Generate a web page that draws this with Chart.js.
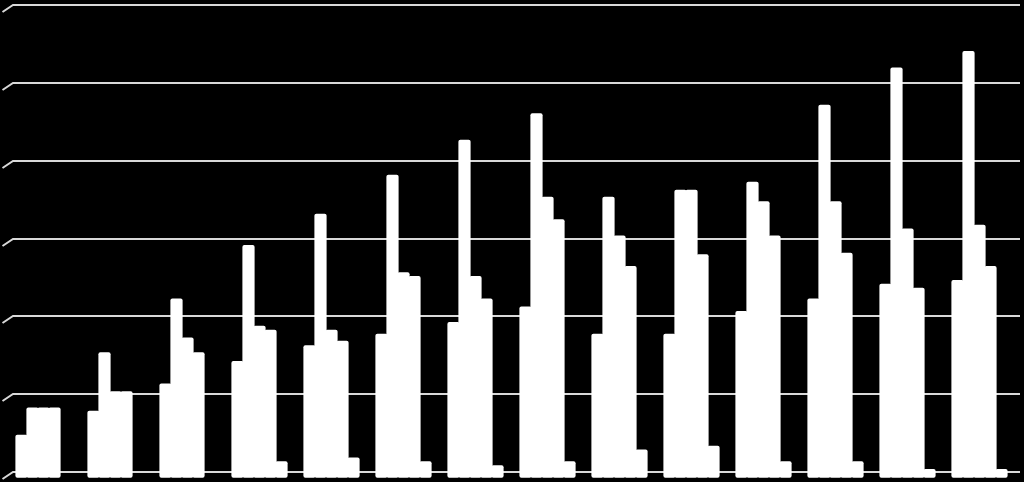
<!DOCTYPE html>
<html>
<head>
<meta charset="utf-8">
<script src="https://cdn.jsdelivr.net/npm/chart.js@4"></script>
<style>
html,body{margin:0;padding:0;background:#000;}
#wrap{width:1024px;height:482px;}
</style>
</head>
<body>
<div id="wrap"><canvas id="c" width="1024" height="482"></canvas></div>
<script>
const categories = ["1","2","3","4","5","6","7","8","9","10","11","12","13","14"];
const series1 = [0.47,0.78,1.13,1.42,1.62,1.77,1.92,2.12,1.77,1.77,2.06,2.22,2.41,2.46];
const series2 = [0.82,1.53,2.22,2.91,3.31,3.81,4.26,4.60,3.53,3.62,3.72,4.71,5.19,5.40];
const series3 = [0.82,1.03,1.72,1.87,1.82,2.56,2.51,3.53,3.03,3.62,3.47,3.47,3.12,3.17];
const series4 = [0.82,1.03,1.53,1.82,1.68,2.51,2.22,3.24,2.64,2.79,3.03,2.81,2.36,2.64];
const series5 = [null,null,null,0.13,0.18,0.13,0.08,0.13,0.28,0.33,0.13,0.13,0.03,0.03];
const tickValues = [0,1,2,3,4,5,6];

const gridPlugin = {
  id: 'floorGrid',
  beforeDatasetsDraw(chart) {
    const ctx = chart.ctx;
    const y = chart.scales.y;
    const a = chart.chartArea;
    ctx.save();
    ctx.strokeStyle = '#d9d9d9';
    ctx.lineWidth = 2;
    tickValues.forEach(v => {
      const py = Math.round(y.getPixelForValue(v));
      ctx.beginPath();
      ctx.moveTo(a.left - 5, py + 7);
      ctx.lineTo(a.left + 5.5, py);
      ctx.lineTo(a.right + 4.5, py);
      ctx.stroke();
    });
    ctx.restore();
  }
};

function ds(data){
  return {
    data: data,
    backgroundColor: '#ffffff',
    borderWidth: 0,
    borderRadius: 2,
    borderSkipped: false,
    inflateAmount: 0.6,
    base: -0.065,
    clip: false,
    categoryPercentage: 0.764,
    barPercentage: 1.0
  };
}

new Chart(document.getElementById('c'), {
  type: 'bar',
  data: {
    labels: categories,
    datasets: [ds(series1), ds(series2), ds(series3), ds(series4), ds(series5)]
  },
  options: {
    responsive: false,
    animation: false,
    layout: { padding: { left: 7.5, right: 8.5, top: 5, bottom: 10 } },
    plugins: { legend: { display: false }, tooltip: { enabled: false } },
    scales: {
      x: { display: false, grid: { display: false } },
      y: {
        display: false,
        min: 0, max: 6,
        afterBuildTicks: s => { s.ticks = tickValues.map(v => ({value: v})); },
        grid: { display: false }
      }
    }
  },
  plugins: [gridPlugin]
});
</script>
</body>
</html>
